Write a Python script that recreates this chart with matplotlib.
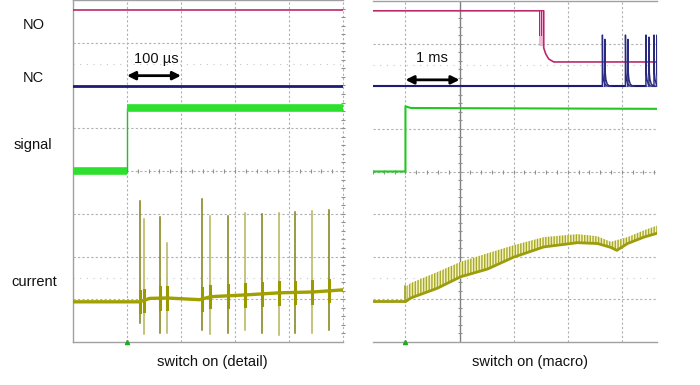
import numpy as np
import matplotlib
matplotlib.use('Agg')
import matplotlib.pyplot as plt

plt.rcParams['font.family'] = ['Liberation Sans', 'DejaVu Sans']
plt.rcParams['hatch.linewidth'] = 1.0

# ---- left panel: switch on (detail), x in microseconds, y in scope divisions
no_left_x = [-100, 400]
no_left_y = [7.77, 7.77]
nc_left_x = [-100, 400]
nc_left_y = [6.0, 6.0]
sig_left_x = [-100, 0, 0, 400]
sig_left_y = [4.0, 4.0, 5.47, 5.47]
cur_left_x = [-100, 23.5, 42, 73.5, 134.6, 154.9, 218, 281, 344, 400]
cur_left_y = [0.94, 0.94, 1.02, 1.03, 0.99, 1.06, 1.10, 1.15, 1.17, 1.22]
spike_t = [24.8, 30.9, 61.9, 74.8, 139.6, 154.4, 187.0, 219.3, 250.0, 280.9, 311.9, 343.3, 374.8]
spike_top = [3.30, 2.88, 2.92, 2.32, 3.35, 2.95, 2.95, 3.02, 3.00, 3.02, 3.04, 3.06, 3.09]
spike_bot = [0.45, 0.19, 0.21, 0.21, 0.28, 0.19, 0.21, 0.28, 0.21, 0.16, 0.21, 0.21, 0.28]

# ---- right panel: switch on (macro), x in milliseconds
no_right_x = [-0.6, 2.463, 2.556, 2.556, 2.593, 2.648, 2.741, 4.65]
no_right_y = [7.77, 7.77, 7.77, 6.90, 6.76, 6.64, 6.57, 6.57]
no_ring_t = [2.463, 2.49, 2.513, 2.53, 2.55]
no_ring_low = 6.95
nc_right_x = [-0.6, 4.65]
nc_right_y = [6.0, 6.0]
nc_spike_t = [3.639, 3.685, 4.065, 4.111, 4.444, 4.50, 4.593, 4.648]
nc_spike_top = [7.2, 7.1, 7.2, 7.1, 7.2, 7.15, 7.2, 7.2]
nc_tail_dt = [0.009, 0.02, 0.045, 0.08, 0.12]
nc_tail_y = [6.32, 6.16, 6.05, 6.01, 6.0]
sig_right_x = [-0.6, 0, 0, 0.1, 4.65]
sig_right_y = [4.0, 4.0, 5.53, 5.49, 5.47]
cur_pre_x = [-0.6, 0.0]
cur_pre_y = [0.95, 0.95]
cur_env_x = [0.0185, 0.093, 0.587, 1.019, 1.513, 2.0, 2.556, 3.18, 3.55, 3.796, 3.907, 4.106, 4.407, 4.65]
cur_low = [0.96, 1.03, 1.26, 1.53, 1.71, 1.99, 2.23, 2.33, 2.31, 2.22, 2.15, 2.31, 2.46, 2.55]
cur_high = [1.31, 1.38, 1.64, 1.88, 2.08, 2.27, 2.46, 2.53, 2.48, 2.35, 2.39, 2.46, 2.62, 2.73]

c_no = '#bb2a6a'
c_nc = '#1c1c74'
c_sig = '#2ee02e'
c_cur = '#a0a000'
c_grid = '#b0b0b0'

fig = plt.figure(figsize=(7, 3.85), dpi=100)
ax1 = fig.add_axes([73/700, 43/385, 270/700, 342/385])
ax2 = fig.add_axes([373/700, 43/385, 284/700, 341/385])


def scope_grid(ax, xs, center_x, solid_center, xmin, xmax, xstep):
    ax.set_xlim(xmin, xmax)
    ax.set_ylim(0, 8)
    ax.set_xticks([])
    ax.set_yticks([])
    for s in ax.spines.values():
        s.set_color('#a0a0a0')
        s.set_linewidth(1)
    ax.spines['right'].set_visible(False)
    for x in xs:
        ax.axvline(x, color=c_grid, lw=0.8, ls=(0, (2, 2)), zorder=1)
    if solid_center:
        ax.axvline(center_x, color='#808080', lw=1, zorder=1)
    else:
        ax.axvline(center_x, color=c_grid, lw=0.8, ls=(0, (2, 2)), zorder=1, clip_on=False)
    for y in range(1, 8):
        ax.axhline(y, color=c_grid, lw=0.8, ls=(0, (2, 2)), zorder=1)
    for y in (1.5, 6.5):
        ax.axhline(y, color='#c8c8c8', lw=0.8, ls=(0, (1, 5)), zorder=1)
    # minor ticks on centre lines
    tx = np.arange(xmin - xmin % (xstep / 5), xmax, xstep / 5)
    ax.plot(tx, np.full(len(tx), 4.0), ls='none', marker='|', ms=3.5,
            mew=0.8, color='#909090', zorder=1)
    ty = np.arange(0.2, 8, 0.2)
    ax.plot(np.full(len(ty), center_x), ty, ls='none', marker='_', ms=3.5,
            mew=0.8, color='#909090', zorder=1, clip_on=False)


scope_grid(ax1, [0, 100, 200, 300], 400, False, -100, 400, 100)
ax1.spines['left'].set_visible(True)

scope_grid(ax2, [0, 2, 3, 4], 1, True, -0.6, 4.65, 1)
ax2.spines['left'].set_visible(False)

# ---- left traces
ax1.plot(no_left_x, no_left_y, color=c_no, lw=1.2, zorder=3)
ax1.plot(nc_left_x, nc_left_y, color=c_nc, lw=2, zorder=3)
ax1.plot(sig_left_x, sig_left_y, color='#22c022', lw=1, zorder=3)
ax1.plot(sig_left_x[:2], sig_left_y[:2], color=c_sig, lw=5.5, zorder=3,
         solid_capstyle='butt')
ax1.plot(sig_left_x[2:], sig_left_y[2:], color=c_sig, lw=5.5, zorder=3,
         solid_capstyle='butt')
for i, (t, top, bot) in enumerate(zip(spike_t, spike_top, spike_bot)):
    col = '#7e7e12' if i % 2 == 0 else '#b4b45a'
    ax1.plot([t, t], [bot, top], color=col, lw=1.1, zorder=3)
    base = np.interp(t, cur_left_x, cur_left_y)
    ax1.plot([t, t], [base - 0.25, base + 0.25], color='#9a9a00', lw=2.2, zorder=4)
ax1.plot(cur_left_x, cur_left_y, color=c_cur, lw=2.4, zorder=4)
ax1.plot(0, 0, marker='^', color='#22aa22', ms=3, clip_on=False, zorder=5)

# ---- right traces
ax2.plot(no_right_x, no_right_y, color=c_no, lw=1.2, zorder=3)
ax2.fill_between([no_ring_t[0], no_ring_t[-1]], no_ring_low, 7.77,
                 color='#ee88c0', alpha=0.6, lw=0, zorder=3)
for t in no_ring_t[::2]:
    ax2.plot([t, t], [no_ring_low + 0.25, 7.77], color='#c01870', lw=0.7, zorder=3)

ax2.plot(nc_right_x, nc_right_y, color=c_nc, lw=1.5, zorder=3)
for t, top in zip(nc_spike_t, nc_spike_top):
    xs = [t, t, t + 0.004] + [t + d for d in nc_tail_dt]
    ys = [6.0, top, top] + nc_tail_y
    ax2.fill_between(xs, 6.0, ys, color='#c4c4ec', lw=0, zorder=3)
    ax2.plot(xs, ys, color='#2a2a80', lw=1.0, zorder=4)

ax2.plot(sig_right_x, sig_right_y, color='#22c822', lw=1.5, zorder=3)

ax2.fill_between(cur_env_x, cur_low, cur_high, facecolor='#f4f4c4',
                 edgecolor='#a8a82a', hatch='||||||', lw=0, zorder=3)
ax2.plot([0, 0], [cur_pre_y[-1], cur_high[0]], color='#a0a020', lw=1.2, zorder=4)
ax2.plot(cur_pre_x + cur_env_x, cur_pre_y + cur_low, color='#9c9c0c', lw=2, zorder=4)
ax2.plot(0, 0, marker='^', color='#22aa22', ms=3, clip_on=False, zorder=5)

# ---- scale arrows
ax1.annotate('', xy=(100, 6.23), xytext=(0, 6.23),
             arrowprops=dict(arrowstyle='<|-|>', color='black', lw=2,
                             mutation_scale=12, shrinkA=0, shrinkB=0))
ax2.annotate('', xy=(1, 6.15), xytext=(0, 6.15),
             arrowprops=dict(arrowstyle='<|-|>', color='black', lw=2,
                             mutation_scale=12, shrinkA=0, shrinkB=0))

# ---- texts (pixel positions converted to figure fractions)
def ftext(x, y, s):
    fig.text(x / 700, 1 - y / 385, s, ha='center', va='baseline',
             fontsize=10.5, color='#111111')


ftext(33.5, 29.3, 'NO')
ftext(33.7, 81.7, 'NC')
ftext(33.3, 149, 'signal')
ftext(33.8, 286, 'current')
ftext(156.3, 63.3, '100 µs')
ftext(431.7, 62.3, '1 ms')
ftext(212, 366, 'switch on (detail)')
ftext(530, 366, 'switch on (macro)')

fig.savefig('out.png', dpi=100)
